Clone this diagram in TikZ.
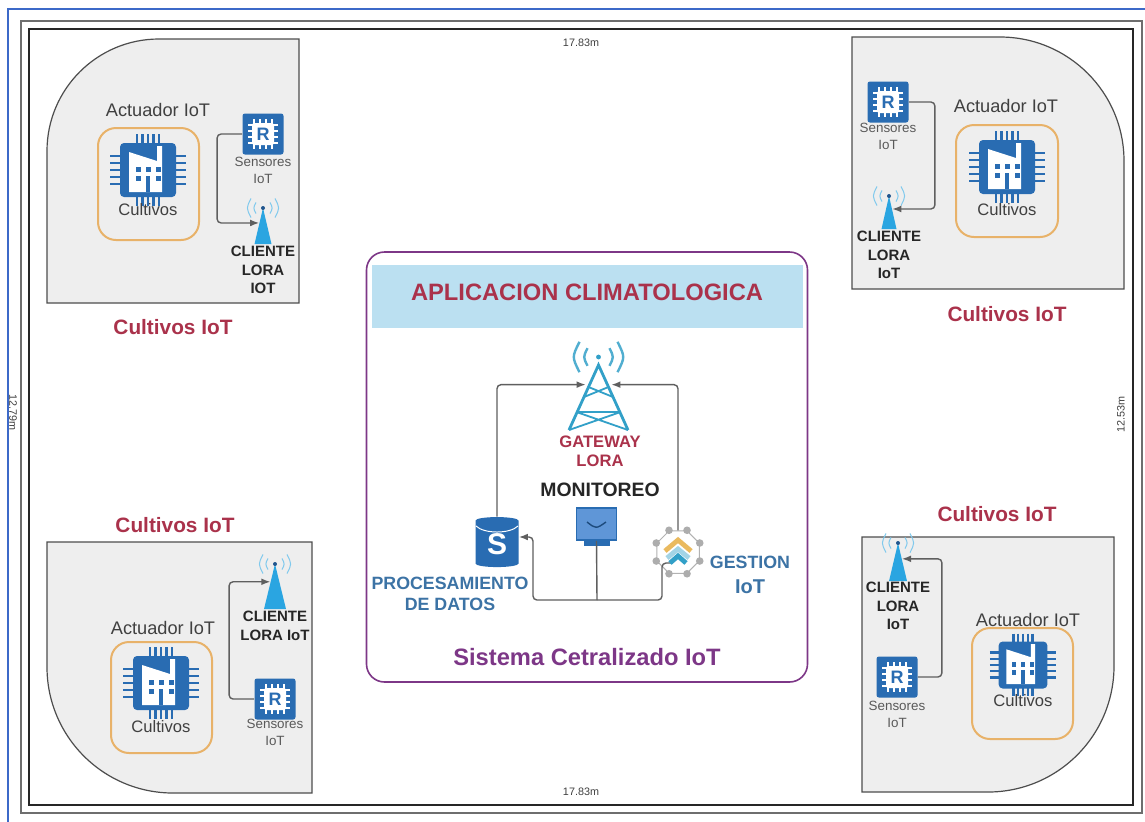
\documentclass[tikz,border=0pt]{standalone}
\usepackage{fontspec}
\setmainfont{Liberation Sans}
\usetikzlibrary{shapes,positioning,calc,arrows.meta}
\definecolor{chipblue}{RGB}{41,108,178}
\definecolor{towerblue}{RGB}{42,165,225}
\definecolor{towerteal}{RGB}{50,160,200}
\definecolor{titlered}{RGB}{170,50,75}
\definecolor{labelblue}{RGB}{60,115,165}
\definecolor{sysviolet}{RGB}{125,55,135}
\definecolor{boxorange}{RGB}{232,178,105}
\definecolor{panelgray}{RGB}{238,238,238}
\definecolor{linkgray}{RGB}{95,95,95}
\definecolor{framegray}{RGB}{110,110,110}
\definecolor{frameblue}{RGB}{60,105,200}
\definecolor{bandblue}{RGB}{187,224,241}
\definecolor{screenblue}{RGB}{95,150,215}
\tikzset{
    pics/chipicon/.style={code={
        \foreach \p in {-11,-5.5,0,5.5,11} {
            \draw[chipblue, line width=1.1pt] (\p,-36) -- (\p,36);
            \draw[chipblue, line width=1.1pt] (-38,1.3*\p) -- (38,1.3*\p);
        }
        \fill[chipblue, rounded corners=2pt] (-28,-27) rectangle (28,27);
        \fill[white] (-19,-18) -- (9,-9) -- (9,-24) -- (14,-24) -- (14,22) -- (-19,22) -- cycle;
        \foreach \p in {-10,0,10} {
            \fill[chipblue] (\p-2.5,-3) rectangle (\p+2.5,2);
        }
        \fill[chipblue] (-12.5,6) rectangle (-7.5,11);
        \fill[chipblue] (7.5,6) rectangle (12.5,11);
        \fill[chipblue] (-2,6) rectangle (2,22);
    }},
    pics/waves/.style={code={
        \foreach \r in {7,12} {
            \draw[towerblue!60, line width=0.5pt] (-\r,-0.8*\r) .. controls (-1.4*\r,0) .. (-\r,0.8*\r);
            \draw[towerblue!60, line width=0.5pt] (\r,-0.8*\r) .. controls (1.4*\r,0) .. (\r,0.8*\r);
        }
        \fill[chipblue!80!black] (0,0) circle (1pt);
    }},
    pics/bigwaves/.style={code={
        \foreach \r in {11,19} {
            \draw[towerteal!85, line width=1.2pt] (-\r,-0.8*\r) .. controls (-1.4*\r,0) .. (-\r,0.8*\r);
            \draw[towerteal!85, line width=1.2pt] (\r,-0.8*\r) .. controls (1.4*\r,0) .. (\r,0.8*\r);
        }
        \fill[towerteal] (0,0) circle (1.2pt);
    }},
    pics/towerlegs/.style={code={
        \draw[towerteal, line width=1.4pt] (-29.5,65) -- (0,0) -- (29.5,65);
        \draw[towerteal, line width=0.9pt] (-10,22) -- (14.5,32) (10,22) -- (-14.5,32);
        \draw[towerteal, line width=0.9pt] (-22,47) -- (22,47);
        \draw[towerteal, line width=0.9pt] (-22,47) -- (29.5,65) (22,47) -- (-29.5,65);
    }},
    pics/chevrons/.style={code={
        \draw[boxorange!90!yellow, line width=2.4pt] (-13,-1) -- (0,-12) -- (13,-1);
        \draw[towerteal!45, line width=2.4pt] (-11,6) -- (0,-3) -- (11,6);
        \draw[towerteal, line width=2.4pt] (-8,11) -- (0,4) -- (8,11);
    }},
    panel/.style={draw=framegray!70!black, fill=panelgray, line width=0.6pt},
    orangebox/.style={draw=boxorange, line width=1pt, rounded corners=9pt},
    sensorbox/.style={fill=chipblue, rounded corners=1.2pt, minimum size=20.5pt, inner sep=0pt,
        text=chipblue, font=\bfseries\fontsize{9}{9}\selectfont,
        path picture={
            \fill[white] ($(path picture bounding box.center)+(-11,-11)$) rectangle ($(path picture bounding box.center)+(11,11)$);
            \foreach \p in {-9,-3,3,9} {
                \draw[white, line width=0.7pt] ($(path picture bounding box.center)+(\p,-15)$) -- ($(path picture bounding box.center)+(\p,15)$);
                \draw[white, line width=0.7pt] ($(path picture bounding box.center)+(-15,\p)$) -- ($(path picture bounding box.center)+(15,\p)$);
            }
        }},
    antenna/.style={isosceles triangle, isosceles triangle stretches, shape border rotate=90, fill=towerblue,
        minimum width=8.5pt, minimum height=18pt, inner sep=0pt},
    link/.style={draw=linkgray, line width=0.7pt, rounded corners=2pt},
    plain/.style={text=black!75, font=\fontsize{9.1}{10}\selectfont},
    culti/.style={text=black!75, font=\fontsize{8.3}{10}\selectfont},
    sens/.style={text=black!65, align=center, font=\fontsize{6.7}{8.5}\selectfont},
    client/.style={text=black!85, align=center, font=\bfseries\fontsize{7.5}{9.4}\selectfont},
    crop/.style={text=titlered, font=\bfseries\fontsize{10.4}{11}\selectfont},
    dim/.style={text=black!75, font=\fontsize{5.4}{6}\selectfont},
    bluelabel/.style={text=labelblue, align=center, font=\bfseries\fontsize{8.9}{10.3}\selectfont}
}
\begin{document}
\begin{tikzpicture}[x=0.5pt, y=-0.5pt, >={Latex[length=4.5pt,width=3.4pt]}]
    \useasboundingbox (0,0) rectangle (1145,821);
    \fill[white] (0,0) rectangle (1145,821);
    \draw[frameblue, line width=0.8pt] (8,830) -- (8,9) -- (1150,9);
    \draw[framegray, line width=0.7pt] (21,21) rectangle (1142,813);
    \draw[black!85, line width=0.6pt] (29,29) rectangle (1133,805);

    \draw[panel] (47,303) [rounded corners=56pt] -- (47,39) [sharp corners] -- (299,39) -- (299,303) -- cycle;
    \draw[panel] (852,289) -- (852,37) [rounded corners=62pt] -- (1124,37) [sharp corners] -- (1124,289) -- cycle;
    \draw[panel] (312,793) [rounded corners=63pt] -- (47,793) [sharp corners] -- (47,542) -- (312,542) -- cycle;
    \draw[panel] (862,792) -- (862,537) -- (1114,537) [rounded corners=63pt] -- (1114,792) [sharp corners] -- cycle;

    \node[dim] (dimtop) at (581,43) {17.83m};
    \node[dim] (dimbottom) at (581,792) {17.83m};
    \node[dim, rotate=90] (dimright) at (1121,414) {12.53m};
    \node[dim, rotate=-90] (dimleft) at (13,412) {12.79m};

    \draw[orangebox] (98,128) rectangle (199,240);
    \draw[orangebox] (956,125) rectangle (1058,237);
    \draw[orangebox] (111,642) rectangle (212,753);
    \draw[orangebox] (972,628) rectangle (1073,739);

    \pic at (148,170) {chipicon};
    \pic at (1007,167) {chipicon};
    \pic at (161,683) {chipicon};
    \pic[scale=0.87] at (1023,665) {chipicon};

    \node[plain] (act1) at (158,110) {Actuador IoT};
    \node[plain] (act2) at (1006,106) {Actuador IoT};
    \node[plain] (act3) at (163,628) {Actuador IoT};
    \node[plain] (act4) at (1028,620) {Actuador IoT};
    \node[culti] (cul1) at (148,210) {Cultivos};
    \node[culti] (cul2) at (1007,210) {Cultivos};
    \node[culti] (cul3) at (161,727) {Cultivos};
    \node[culti] (cul4) at (1023,701) {Cultivos};

    \node[sensorbox] (sens1) at (263,134) {R};
    \node[sensorbox] (sens2) at (888,102) {R};
    \node[sensorbox] (sens3) at (275,699) {R};
    \node[sensorbox] (sens4) at (897,677) {R};
    \node[sens] (senslabel1) at (263,170) {Sensores\\IoT};
    \node[sens] (senslabel2) at (888,136) {Sensores\\IoT};
    \node[sens] (senslabel3) at (275,732) {Sensores\\IoT};
    \node[sens] (senslabel4) at (897,714) {Sensores\\IoT};

    \node[antenna, anchor=apex] (ant1) at (263,207) {};
    \node[antenna, anchor=apex, minimum width=7.5pt, minimum height=16.5pt] (ant2) at (889,195) {};
    \node[antenna, anchor=apex, minimum width=11pt, minimum height=22.5pt] (ant3) at (275,563) {};
    \node[antenna, anchor=apex, minimum width=9pt, minimum height=19pt] (ant4) at (898,542) {};
    \pic at (263,208) {waves};
    \pic at (889,196) {waves};
    \pic at (275,564) {waves};
    \pic at (898,543) {waves};
    \node[client] (cli1) at (263,270) {CLIENTE\\LORA\\IOT};
    \node[client] (cli2) at (889,255) {CLIENTE\\LORA\\IoT};
    \node[client] (cli3) at (275,626) {CLIENTE\\LORA IoT};
    \node[client] (cli4) at (898,606) {CLIENTE\\LORA\\IoT};

    \draw[link, ->] (sens1.west) -- ++(-25,0) |- (ant1.105);
    \draw[link, ->] (sens2.east) -- ++(26,0) |- (ant2.77);
    \draw[link, ->] (sens3.west) -- ++(-25,0) |- (ant3.104);
    \draw[link, ->] (sens4.east) -- ++(24,0) |- (ant4.75);

    \node[crop] (crop1) at (173,327) {Cultivos IoT};
    \node[crop] (crop2) at (1007,314) {Cultivos IoT};
    \node[crop] (crop3) at (175,525) {Cultivos IoT};
    \node[crop] (crop4) at (997,514) {Cultivos IoT};

    \node[draw=sysviolet, line width=0.8pt, rounded corners=9pt, minimum width=220.5pt, minimum height=215pt] (system) at (587,467) {};
    \node[fill=bandblue, minimum width=215.5pt, minimum height=31.5pt, inner sep=0pt] (band) at (587.5,296.5) {};
    \node[text=titlered, font=\bfseries\fontsize{11.85}{13}\selectfont] (title) at (587,292) {APLICACION CLIMATOLOGICA};

    \node[isosceles triangle, isosceles triangle stretches, shape border rotate=90,
        minimum width=29.5pt, minimum height=32.5pt, inner sep=0pt, anchor=apex] (gateway) at (598.5,365) {};
    \pic at (598.5,365) {towerlegs};
    \pic at (598.5,357) {bigwaves};
    \node[text=titlered, align=center, font=\bfseries\fontsize{8.3}{9.6}\selectfont] (gatelabel) at (600,451) {GATEWAY\\LORA};
    \node[text=black!85, font=\bfseries\fontsize{9.7}{11}\selectfont] (monlabel) at (600,490) {MONITOREO};

    \node[cylinder, shape border rotate=90, aspect=0.35, fill=chipblue, minimum width=21.5pt, minimum height=25pt, inner sep=0pt,
        text=white, font=\bfseries\fontsize{15}{15}\selectfont] (datos) at (497,544) {\raisebox{-4pt}{S}};
    \draw[white, line width=0.5pt] (476,526) .. controls (484,534) and (510,534) .. (518,526);
    \node[bluelabel] (datoslabel) at (450,594) {PROCESAMIENTO\\DE DATOS};

    \node[draw=chipblue, line width=0.8pt, fill=screenblue, minimum width=20pt, minimum height=16pt, inner sep=0pt] (monitor) at (596.5,524) {};
    \fill[chipblue] (584,541) rectangle (610,546);
    \draw[chipblue!70!black, line width=0.7pt] (587,522) .. controls (596,529) .. (606,522);

    \node[regular polygon, regular polygon sides=8, draw=black!30, line width=0.5pt, minimum size=23pt, inner sep=0pt] (gestion) at (678,552) {};
    \foreach \c in {1,...,8} {
        \fill[black!32] (gestion.corner \c) circle (1.9pt);
    }
    \node[bluelabel, align=center, font=\bfseries\fontsize{8.9}{12.4}\selectfont] (gestlabel) at (750,575) {GESTION\\{\fontsize{10}{12}\selectfont IoT}};

    \coordinate (split) at (597,600);
    \draw[link, ->, shorten >=2pt] (datos.north) |- (gateway.108);
    \draw[link, ->, shorten >=2pt] (gestion.north) |- (gateway.72);
    \draw[link] (monitor.south) -- (split);
    \draw[link, ->] (split) -| (533,537) -- (datos.east |- 0,537);
    \draw[link] (split) -| (662,563) -- ($(gestion.center)+(-6,11)$);
    \pic at (678,552) {chevrons};

    \node[text=sysviolet, font=\bfseries\fontsize{11.85}{13}\selectfont] (system label) at (587,657) {Sistema Cetralizado IoT};
\end{tikzpicture}
\end{document}
